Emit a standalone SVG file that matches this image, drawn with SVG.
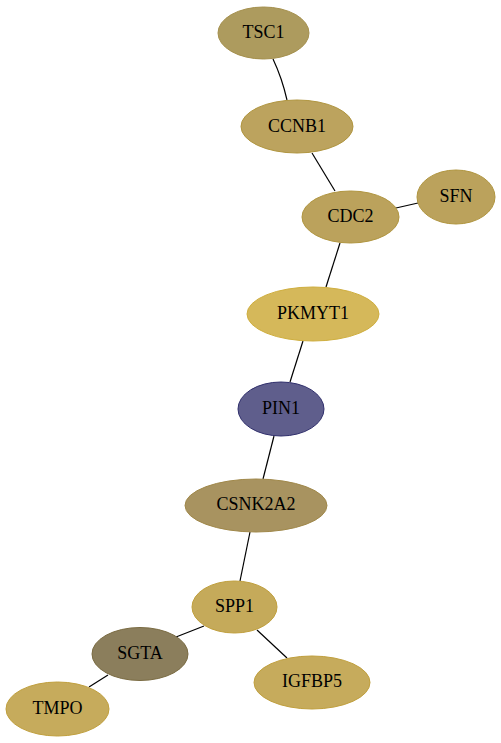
<svg xmlns="http://www.w3.org/2000/svg" width="501" height="743" viewBox="0 0 501 743">
<style>
text{font-family:"Liberation Serif","Times New Roman",serif;font-size:18px;text-anchor:middle;dominant-baseline:central;fill:#000}
.e{stroke:#000;stroke-width:1.2;fill:none}
</style>
<rect width="501" height="743" fill="#fff"/>
<g id="edges">
<path class="e" d="M273,59 Q282,78 287,100"/>
<path class="e" d="M312,153 L335,191"/>
<path class="e" d="M396,208 L418,203"/>
<path class="e" d="M340,243 L326,287"/>
<path class="e" d="M303,341 L290,382"/>
<path class="e" d="M274,436 L263,479"/>
<path class="e" d="M250,532 L240,581"/>
<path class="e" d="M204,626 L176,637"/>
<path class="e" d="M257,630 L287,658"/>
<path class="e" d="M108,675 L89,687"/>
</g>
<g id="TSC1"><ellipse cx="263.5" cy="33" rx="45.5" ry="26" fill="#ad9b5e" stroke="#a48f4c"/><text x="263.5" y="32">TSC1</text></g>
<g id="CCNB1"><ellipse cx="297" cy="126.5" rx="56" ry="26.5" fill="#bca35e" stroke="#b0953f"/><text x="297" y="125.5">CCNB1</text></g>
<g id="CDC2"><ellipse cx="350.5" cy="217" rx="48.5" ry="26" fill="#bba25c" stroke="#b0953f"/><text x="350.5" y="216">CDC2</text></g>
<g id="SFN"><ellipse cx="456" cy="197" rx="39" ry="27" fill="#bba25c" stroke="#b0953f"/><text x="456" y="195.5">SFN</text></g>
<g id="PKMYT1"><ellipse cx="313" cy="314" rx="66" ry="27" fill="#d5b85a" stroke="#cfae3e"/><text x="313" y="312.5">PKMYT1</text></g>
<g id="PIN1"><ellipse cx="281" cy="409" rx="43" ry="27" fill="#5f5e8c" stroke="#2f2e6b"/><text x="281" y="407.5">PIN1</text></g>
<g id="CSNK2A2"><ellipse cx="256" cy="505.5" rx="71" ry="26.5" fill="#a89360" stroke="#a0884a"/><text x="256" y="503.5">CSNK2A2</text></g>
<g id="SPP1"><ellipse cx="234.5" cy="607" rx="42.5" ry="26" fill="#c5aa5a" stroke="#c09f3d"/><text x="234.5" y="605.5">SPP1</text></g>
<g id="SGTA"><ellipse cx="140" cy="654" rx="48" ry="26.5" fill="#8b7e5c" stroke="#7a6b42"/><text x="140" y="652.5">SGTA</text></g>
<g id="TMPO"><ellipse cx="57.5" cy="709" rx="51.5" ry="27" fill="#c6ab5c" stroke="#c09f3d"/><text x="57.5" y="707.5">TMPO</text></g>
<g id="IGFBP5"><ellipse cx="312" cy="682.5" rx="58" ry="26.5" fill="#c6ab5c" stroke="#c09f3d"/><text x="312" y="680.5">IGFBP5</text></g>
</svg>
